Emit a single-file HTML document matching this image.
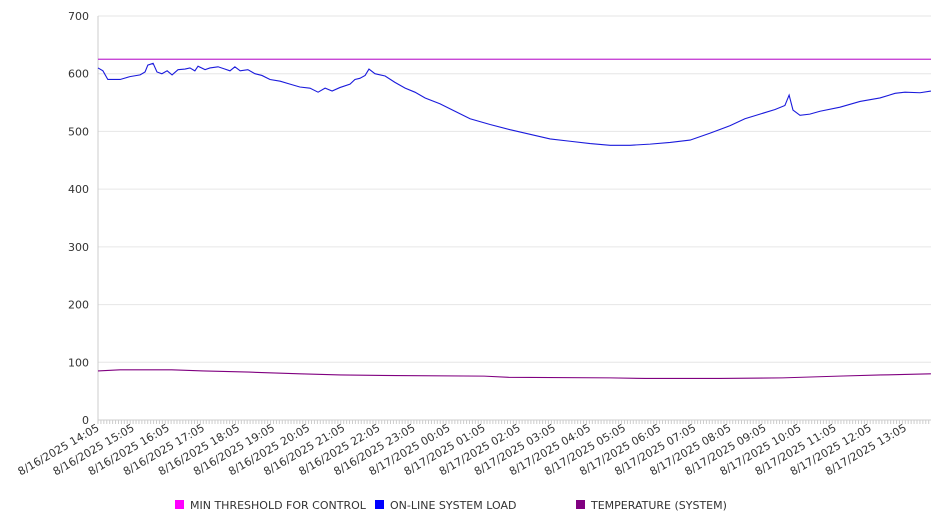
<!DOCTYPE html>
<html><head><meta charset="utf-8"><style>
body{margin:0;background:#fff;font-family:"DejaVu Sans","Liberation Sans",sans-serif}
svg text{font-family:"DejaVu Sans","Liberation Sans",sans-serif;fill:#333}
</style></head><body>
<svg id="chart" width="946" height="526" xmlns="http://www.w3.org/2000/svg"></svg>
<script>
const yTicks=[0,100,200,300,400,500,600,700];
const xLabels=["8/16/2025 14:05","8/16/2025 15:05","8/16/2025 16:05","8/16/2025 17:05","8/16/2025 18:05","8/16/2025 19:05","8/16/2025 20:05","8/16/2025 21:05","8/16/2025 22:05","8/16/2025 23:05","8/17/2025 00:05","8/17/2025 01:05","8/17/2025 02:05","8/17/2025 03:05","8/17/2025 04:05","8/17/2025 05:05","8/17/2025 06:05","8/17/2025 07:05","8/17/2025 08:05","8/17/2025 09:05","8/17/2025 10:05","8/17/2025 11:05","8/17/2025 12:05","8/17/2025 13:05"];
const thresholdValue=625;
const loadHours=[0,.14,.28,.63,.91,1.2,1.34,1.42,1.57,1.68,1.82,1.97,2.11,2.28,2.48,2.62,2.76,2.85,3.05,3.19,3.42,3.62,3.76,3.9,4.05,4.27,4.47,4.67,4.9,5.19,5.47,5.75,6.04,6.27,6.47,6.67,6.89,7.18,7.32,7.46,7.61,7.72,7.89,8.18,8.46,8.75,9.03,9.32,9.74,10.17,10.6,11.17,11.74,12.31,12.88,13.45,14.02,14.59,15.16,15.73,16.3,16.87,17.44,18.01,18.43,18.86,19.29,19.57,19.69,19.8,20,20.28,20.57,21.14,21.71,22.28,22.71,22.99,23.42,23.73];
const loadValues=[610,605,590,590,595,598,603,615,618,603,600,605,598,607,608,610,605,613,607,610,612,608,605,612,605,607,600,597,590,587,582,577,575,568,575,570,576,582,590,592,597,608,600,596,585,575,568,558,548,535,522,512,503,495,487,483,479,476,476,478,481,485,497,510,522,530,538,545,563,537,528,530,535,542,552,558,566,568,567,570];
const tempHours=[0,.63,2.1,3,4.3,5.75,6.9,8.5,11,11.7,14.6,15.6,17.7,19.5,21.1,22.3,23.73];
const tempValues=[85,87,87,85,83,80,78,77,76,74,73,72,72,73,76,78,80];
const maxHours=23.73;
const L=98,R=931,T=16,B=420;
const x=h=>L+h*35.1, y=v=>B-(v/700)*(B-T);
const svg=document.getElementById('chart');const NS="http://www.w3.org/2000/svg";
function el(t,a){const e=document.createElementNS(NS,t);for(const k in a)e.setAttribute(k,a[k]);svg.appendChild(e);return e;}
yTicks.forEach(v=>{
 const g=el('line',{x1:L,x2:R,y1:y(v),y2:y(v),stroke:v?'#e6e6e6':'#ccc'});
 
 
 const t=el('text',{x:89,y:y(v)+4,'text-anchor':'end','font-size':11});t.textContent=v;
 
 
});
const ax=el('line',{x1:L,x2:L,y1:T,y2:B,stroke:'#ccc'});


for(let m=0;m<=maxHours*60;m+=5){const tk=el('line',{x1:x(m/60),x2:x(m/60),y1:B,y2:B+4,stroke:'#ccc'});
 
 }
xLabels.forEach((s,i)=>{const t=el('text',{x:x(i)+2,y:B+10,'text-anchor':'end','font-size':11,transform:`rotate(-30 ${x(i)+2} ${B+10})`});t.textContent=s;
 
 });
const th=el('line',{x1:L,x2:R,y1:y(thresholdValue),y2:y(thresholdValue),stroke:'#c030d0','stroke-width':1.3});


const lp=el('polyline',{points:loadHours.map((h,i)=>x(h)+','+y(loadValues[i])).join(' '),fill:'none',stroke:'#1a1adc','stroke-width':1.1});


const tp=el('polyline',{points:tempHours.map((h,i)=>x(h)+','+y(tempValues[i])).join(' '),fill:'none',stroke:'#800080','stroke-width':1.1});


[['MIN THRESHOLD FOR CONTROL','#ff00ff',175],['ON-LINE SYSTEM LOAD','#0000ff',375],['TEMPERATURE (SYSTEM)','#800080',576]].forEach(([n,c,px])=>{
 const r=el('rect',{x:px,y:500,width:9,height:9,fill:c});
 
 
 const t=el('text',{x:px+15,y:509,'font-size':11});t.textContent=n;
 
 
});
</script>
</body></html>
